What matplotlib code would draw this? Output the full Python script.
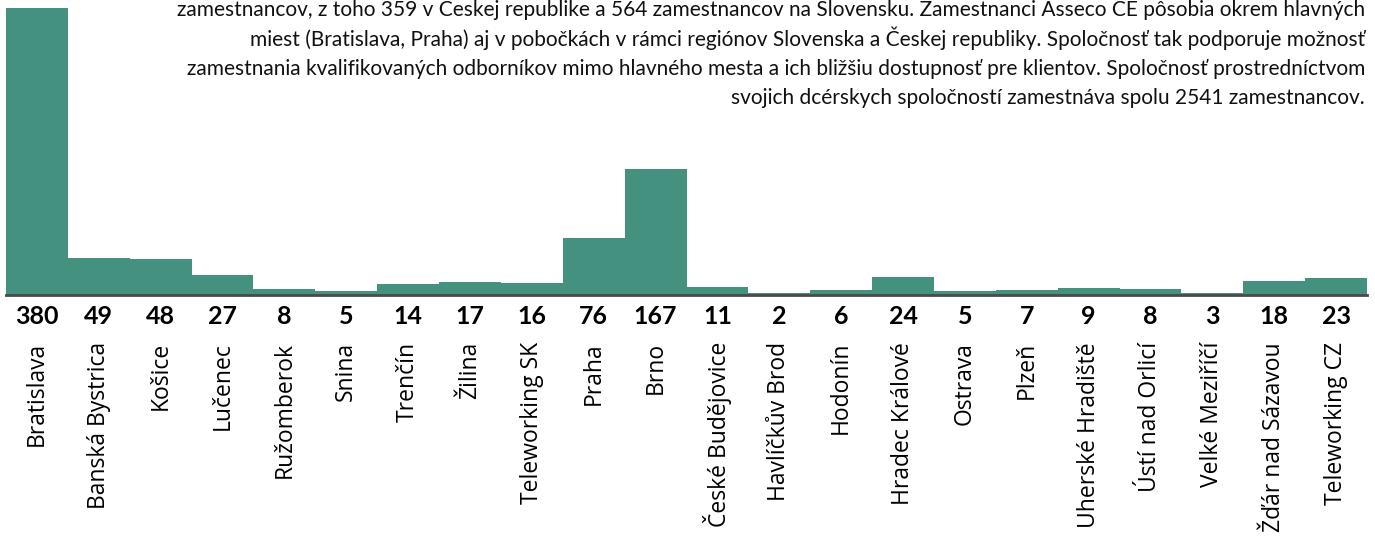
import matplotlib.pyplot as plt

# data
locations = ["Bratislava", "Banská Bystrica", "Košice", "Lučenec", "Ružomberok",
             "Snina", "Trenčín", "Žilina", "Teleworking SK", "Praha", "Brno",
             "České Budějovice", "Havlíčkův Brod", "Hodonín", "Hradec Králové",
             "Ostrava", "Plzeň", "Uherské Hradiště", "Ústí nad Orlicí",
             "Velké Meziříčí", "Žďár nad Sázavou", "Teleworking CZ"]
employees = [380, 49, 48, 27, 8, 5, 14, 17, 16, 76, 167, 11, 2, 6, 24, 5, 7, 9, 8, 3, 18, 23]

intro_lines = [
    "zamestnancov, z toho 359 v Českej republike a 564 zamestnancov na Slovensku. Zamestnanci Asseco CE pôsobia okrem hlavných",
    "miest (Bratislava, Praha) aj v pobočkách v rámci regiónov Slovenska a Českej republiky. Spoločnosť tak podporuje možnosť",
    "zamestnania kvalifikovaných odborníkov mimo hlavného mesta a ich bližšiu dostupnosť pre klientov. Spoločnosť prostredníctvom",
    "svojich dcérskych spoločností zamestnáva spolu 2541 zamestnancov.",
]

W, H = 1375, 557
fig = plt.figure(figsize=(W / 100, H / 100), dpi=100)
# axes: left 6px, right 1367px, baseline at y=295px, top at y=8px
ax = fig.add_axes([6 / W, (H - 295) / H, 1361 / W, 287 / H])

x = range(len(employees))
ax.bar(x, employees, width=1.0, color="#45917f", edgecolor="none")
ax.set_xlim(-0.5, len(employees) - 0.5)
ax.set_ylim(0, max(employees))

for s in ["top", "right", "left"]:
    ax.spines[s].set_visible(False)
ax.spines["bottom"].set_color("#4a4a4a")
ax.spines["bottom"].set_linewidth(2)
ax.set_yticks([])
ax.set_xticks([])

# value labels and rotated category labels
for i, (name, v) in enumerate(zip(locations, employees)):
    ax.annotate(str(v), xy=(i, 0), xycoords=("data", "data"),
                xytext=(0, -22), textcoords="offset pixels",
                ha="center", va="center", fontsize=18, fontweight="bold",
                family="Lato", color="black")
    ax.annotate(name, xy=(i, 0), xycoords=("data", "data"),
                xytext=(0, -47), textcoords="offset pixels",
                ha="center", va="top", rotation=90, fontsize=16.5,
                family="Open Sans", color="black")

# intro paragraph, right aligned, top partly cut off
baselines = [16, 46, 75, 104]
for line, yb in zip(intro_lines, baselines):
    fig.text(1365 / W, 1 - yb / H, line, ha="right", va="baseline",
             fontsize=15, family="Lato", color="#111111")

fig.savefig("out.png", dpi=100)
